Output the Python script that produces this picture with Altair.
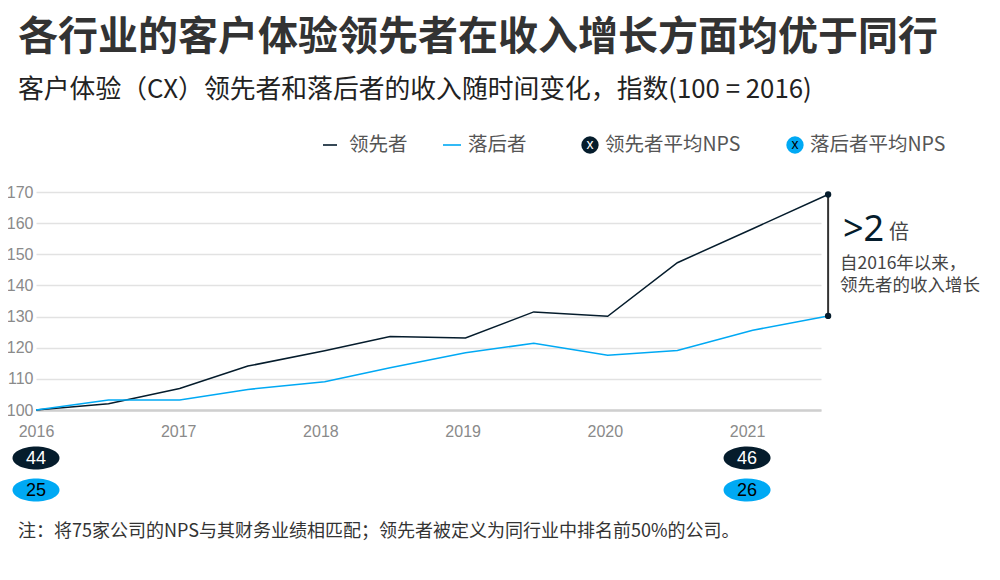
import altair as alt
import pandas as pd

# ---- data ----
x_pos = [2016.0, 2016.51, 2017.01, 2017.49, 2018.03, 2018.49, 2019.02, 2019.50, 2020.02, 2020.51, 2021.04, 2021.57]
leader = [100, 102, 106.9, 114.1, 119, 123.6, 123.1, 131.5, 130.1, 147.3, 158.2, 169.2]
laggard = [100, 103.2, 103.2, 106.6, 109.1, 113.6, 118.4, 121.4, 117.6, 119.1, 125.6, 130.2]
series_names = ["领先者", "落后者"]
series_colors = ["#051c2c", "#00a9f4"]
year_ticks = [2016, 2017, 2018, 2019, 2020, 2021]
y_ticks = [100, 110, 120, 130, 140, 150, 160, 170]
nps_years = [2016, 2021]
leader_nps = [44, 46]
laggard_nps = [25, 26]

title = "各行业的客户体验领先者在收入增长方面均优于同行"
subtitle = "客户体验（CX）领先者和落后者的收入随时间变化，指数(100 = 2016)"
footnote = "注：将75家公司的NPS与其财务业绩相匹配；领先者被定义为同行业中排名前50%的公司。"
legend_labels = ["领先者", "落后者", "领先者平均NPS", "落后者平均NPS"]

CJK = "Noto Sans CJK SC"
NUM = "Liberation Sans"

W, H = 785, 218

df = pd.DataFrame({
    "x": x_pos * 2,
    "v": leader + laggard,
    "s": [series_names[0]] * len(x_pos) + [series_names[1]] * len(x_pos),
})

xs = alt.Scale(domain=[2016, 2021.52], nice=False, zero=False)
ys = alt.Scale(domain=[100, 170], nice=False, zero=False)
ax_x = alt.Axis(values=year_ticks, format="d", title=None, grid=False,
                ticks=False, labelFont=NUM, labelFontSize=16,
                labelColor="#8a8a8a", labelPadding=13,
                labelFlush=False, labelOverlap=False,
                domainColor="#cfcfcf", domainWidth=2.5)
ax_y = alt.Axis(values=y_ticks, title=None, domain=False, ticks=False,
                labelFont=NUM, labelFontSize=16, labelColor="#8a8a8a",
                labelPadding=3, labelOverlap=False, labelFlush=False,
                gridColor="#e2e2e2", gridWidth=1.5)


def X(f):
    return alt.X(f, scale=xs, axis=ax_x)


def Y(f):
    return alt.Y(f, scale=ys, axis=ax_y)


lines = alt.Chart(df).mark_line(strokeWidth=1.5).encode(
    x=X("x:Q"), y=Y("v:Q"),
    color=alt.Color("s:N", scale=alt.Scale(domain=series_names, range=series_colors), legend=None),
)

# bracket between the final values
br = pd.DataFrame({"x": [x_pos[-1]], "y1": [leader[-1]], "y2": [laggard[-1]]})
bracket = alt.Chart(br).mark_rule(color="#333333", strokeWidth=2).encode(
    x=X("x:Q"), y=Y("y1:Q"), y2="y2:Q")
brd = pd.DataFrame({"x": [x_pos[-1]] * 2, "y": [leader[-1], laggard[-1]]})
bracket_dots = alt.Chart(brd).mark_point(filled=True, size=40, color="#051c2c", opacity=1).encode(
    x=X("x:Q"), y=Y("y:Q"))

# NPS badges
ELL = "M -1 0 C -1 -0.27 -0.552 -0.49 0 -0.49 C 0.552 -0.49 1 -0.27 1 0 C 1 0.27 0.552 0.49 0 0.49 C -0.552 0.49 -1 0.27 -1 0 Z"
bd = pd.DataFrame({"x": nps_years, "lead": leader_nps, "lag": laggard_nps})
bchart = alt.Chart(bd)
b1 = bchart.mark_point(shape=ELL, size=47 * 47, filled=True, color=series_colors[0], opacity=1).encode(
    x=X("x:Q"), y=alt.value(266))
b1t = bchart.mark_text(font=NUM, fontSize=18, color="white", baseline="middle").encode(
    x=X("x:Q"), y=alt.value(267), text="lead:Q")
b2 = bchart.mark_point(shape=ELL, size=47 * 47, filled=True, color=series_colors[1], opacity=1).encode(
    x=X("x:Q"), y=alt.value(298))
b2t = bchart.mark_text(font=NUM, fontSize=18, color="black", baseline="middle").encode(
    x=X("x:Q"), y=alt.value(299), text="lag:Q")

one = alt.Chart(pd.DataFrame({"a": [0]}))


def txt(s, x, y, size, color, font=CJK, weight="normal", baseline="middle", align="left"):
    return one.mark_text(text=s, font=font, fontSize=size, color=color, fontWeight=weight,
                         baseline=baseline, align=align).encode(x=alt.value(x), y=alt.value(y))


texts = [
    txt(title, -18, -154, 40, "#333333", weight="bold"),
    txt(subtitle, -18, -102, 25.8, "#222222"),
    txt(legend_labels[0], 313, -47, 19.5, "#555555"),
    txt(legend_labels[1], 432, -47, 19.5, "#555555"),
    txt(legend_labels[2], 569, -47, 19.5, "#555555"),
    txt(legend_labels[3], 774, -47, 19.5, "#555555"),
    txt(">2", 807, 49, 36, "#051c2c", font="Noto Sans", baseline="alphabetic"),
    txt("倍", 853, 47, 20, "#444444", baseline="alphabetic"),
    txt("自2016年以来，", 804, 72, 17.5, "#444444"),
    txt("领先者的收入增长", 804, 94, 17.5, "#444444"),
    txt(footnote, -18, 340, 18, "#333333"),
]

leg_rule1 = one.mark_rule(color=series_colors[0], strokeWidth=1.6).encode(
    x=alt.value(287), x2=alt.value(301), y=alt.value(-47))
leg_rule2 = one.mark_rule(color=series_colors[1], strokeWidth=1.6).encode(
    x=alt.value(407), x2=alt.value(425), y=alt.value(-47))
leg_c1 = one.mark_point(shape="circle", size=300, filled=True, color=series_colors[0], opacity=1).encode(
    x=alt.value(554), y=alt.value(-47))
leg_c2 = one.mark_point(shape="circle", size=300, filled=True, color=series_colors[1], opacity=1).encode(
    x=alt.value(759), y=alt.value(-47))
leg_x1 = txt("x", 554, -47, 14, "white", font=NUM, align="center")
leg_x2 = txt("x", 759, -47, 14, "black", font=NUM, align="center")

chart = alt.layer(
    lines, bracket, bracket_dots, b1, b1t, b2, b2t,
    leg_rule1, leg_rule2, leg_c1, leg_c2, leg_x1, leg_x2, *texts
).properties(
    width=W, height=H,
    background="white",
    autosize=alt.AutoSizeParams(type="none"),
    padding={"left": 28, "top": 184, "right": 171, "bottom": 162},
).configure_view(strokeWidth=0, stroke="transparent")

chart.save("out.html", embed_options={"renderer": "svg", "actions": False})
